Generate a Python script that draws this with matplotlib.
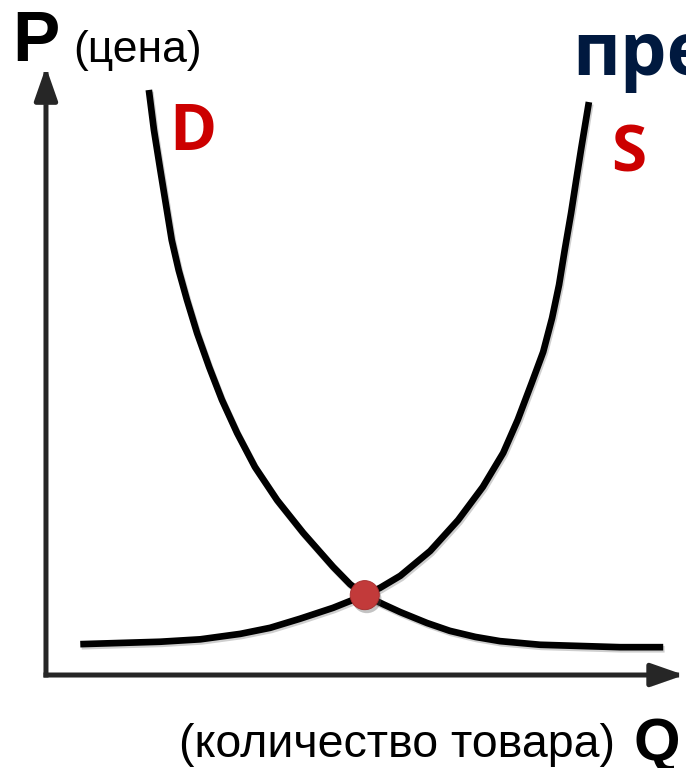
import numpy as np
import matplotlib
matplotlib.use('Agg')
from matplotlib import pyplot as plt
from matplotlib import patheffects as pe

# Кривая спроса D: количество Q и цена P (условные единицы)
q_demand = [1.62, 1.70, 1.80, 1.89, 1.98, 2.09, 2.22, 2.38, 2.57, 2.77, 3.01, 3.29,
            3.64, 4.05, 4.52, 4.79, 5.02, 5.31, 5.58, 6.00, 6.36, 6.76, 7.15, 7.78,
            8.41, 9.04, 9.72]
p_demand = [9.67, 9.01, 8.35, 7.77, 7.19, 6.69, 6.20, 5.65, 5.09, 4.55, 4.00, 3.44,
            2.89, 2.35, 1.79, 1.50, 1.32, 1.17, 1.04, 0.86, 0.73, 0.63, 0.56, 0.50,
            0.48, 0.46, 0.46]

# Кривая предложения S
q_supply = [0.54, 1.17, 1.80, 2.43, 3.06, 3.53, 4.00, 4.52, 5.02, 5.26, 5.58, 6.05,
            6.49, 6.88, 7.20, 7.43, 7.65, 7.83, 7.97, 8.08, 8.17, 8.27, 8.35, 8.43,
            8.49, 8.55]
p_supply = [0.51, 0.53, 0.55, 0.59, 0.68, 0.78, 0.93, 1.11, 1.32, 1.44, 1.64, 2.05,
            2.56, 3.11, 3.67, 4.22, 4.83, 5.34, 5.90, 6.45, 7.03, 7.64, 8.18, 8.71,
            9.09, 9.47]

# Точка равновесия
q_eq = 5.02
p_eq = 1.32

# Длина осей
q_axis = 10.05
p_axis = 10.05

W, H = 686, 768
fig = plt.figure(figsize=(W / 100, H / 100), dpi=100)
ax = fig.add_axes([0, 0, 1, 1])
ax.set_xlim(-0.724, 10.079)
ax.set_ylim(-1.537, 11.157)
ax.axis('off')

axis_col = '#262626'
shadow = [pe.SimplePatchShadow(offset=(1.5, -1.5), shadow_rgbFace='#999999', alpha=0.5), pe.Normal()]
for end in [(0, p_axis), (q_axis, 0)]:
    a = ax.annotate('', xy=end, xytext=(0, 0),
                    arrowprops=dict(arrowstyle='-|>,head_length=2.0,head_width=0.7',
                                    lw=3.6, color=axis_col, shrinkA=0, shrinkB=0,
                                    capstyle='projecting'))
    a.arrow_patch.set_path_effects(shadow)

line_shadow = [pe.SimpleLineShadow(offset=(1, -1.5), shadow_color='#888888', alpha=0.4), pe.Normal()]
ax.plot(q_demand, p_demand, color='black', lw=4.8, solid_joinstyle='round',
        solid_capstyle='butt', path_effects=line_shadow, zorder=3)
ax.plot(q_supply, p_supply, color='black', lw=4.8, solid_joinstyle='round',
        solid_capstyle='butt', path_effects=line_shadow, zorder=3)

ax.scatter([q_eq], [p_eq], s=440, color='#c23a3a', edgecolor='#a52b2b', lw=0.6, zorder=5,
           path_effects=[pe.SimplePatchShadow(offset=(1.5, -2.5), shadow_rgbFace='#555555', alpha=0.35), pe.Normal()])

arial = ['Liberation Sans', 'DejaVu Sans']
calibri = ['Open Sans', 'DejaVu Sans']

def px_text(x, y, s, **kw):
    fig.text(x / W, 1 - y / H, s, va='baseline', ha='left', **kw)

px_text(12, 61, 'P', fontsize=51, fontweight='bold', family=arial)
px_text(73, 62, '(цена)', fontsize=32, family=arial)
px_text(572, 75, 'пре', fontsize=53, fontweight='bold', color='#00193f', family=calibri)
px_text(169, 150, 'D', fontsize=46, fontweight='bold', color='#cc0000', family=calibri)
px_text(611, 171, 'S', fontsize=46, fontweight='bold', color='#cc0000', family=calibri)
px_text(179, 757, '(количество товара)', fontsize=33.5, family=arial)
px_text(634, 760, 'Q', fontsize=43, fontweight='bold', family=arial)

fig.savefig('out.png', dpi=100)
